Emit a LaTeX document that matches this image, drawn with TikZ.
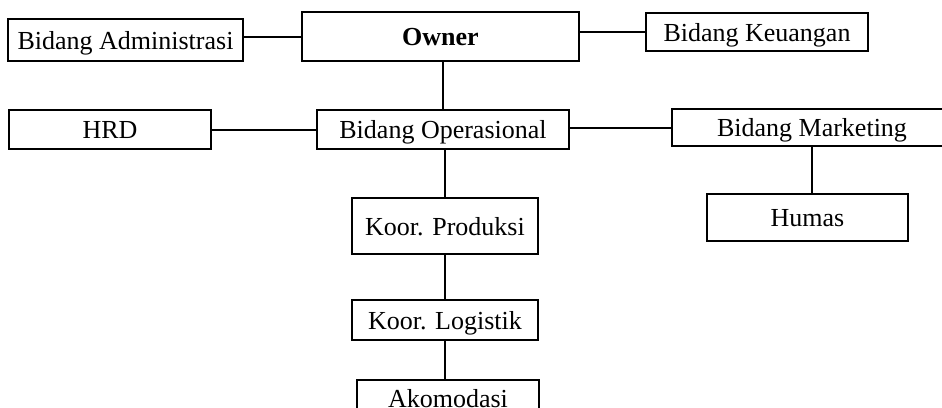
\documentclass[tikz,border=0pt]{standalone}
\usepackage{fontspec}
\setmainfont{Liberation Serif}
\usetikzlibrary{positioning}

\begin{document}
\begin{tikzpicture}[
    node distance=47pt and 60pt,
    every node/.style={font=\fontsize{26}{30}\selectfont},
    unit/.style={draw, rectangle, line width=2pt, inner sep=0pt, text depth=0pt,
                 minimum height=39pt},
    link/.style={line width=2pt},
]

%% Page frame
\useasboundingbox (0,0) rectangle (942pt,-407pt);
\clip (0,0) rectangle (942pt,-407pt);

%% Top row
\node[unit, minimum width=277pt, minimum height=49pt] (owner) at (440.5pt,-36.5pt) {\textbf{Owner}};
\node[unit, minimum width=235pt, minimum height=42pt] (admin) [left=57pt of owner, yshift=-3.5pt] {Bidang Administrasi};
\node[unit, minimum width=222pt, minimum height=38pt] (keu)   [right=65pt of owner, yshift=4.5pt] {Bidang Keuangan};

%% Second row
\node[unit, minimum width=252pt] (oper)   [below=of owner, xshift=2.5pt] {Bidang Operasional};
\node[unit, minimum width=202pt] (hrd)    [left=104pt of oper]            {HRD};
\node[unit, minimum width=280pt, minimum height=37pt] (market) [right=101pt of oper, yshift=2pt] {Bidang Marketing};
\node[unit, minimum width=201pt, minimum height=47pt] (humas)  [below=46pt of market, xshift=-4.5pt] {Humas};

%% Operational chain
\node[unit, minimum width=186pt, minimum height=56pt] (prod) [below=of oper, xshift=2pt] {Koor. Produksi};
\node[unit, minimum width=186pt, minimum height=40pt] (log)  [below=44pt of prod]          {Koor. Logistik};
\node[unit, minimum width=182pt, minimum height=36pt] (akom) [below=38pt of log, xshift=3pt] {Akomodasi};

%% Links from Owner
\draw[link] (owner.west) -- (owner.west -| admin.east);
\draw[link] (keu.west) -- (keu.west -| owner.east);
\draw[link] (oper.north |- owner.south) -- (oper.north);

%% Links from Bidang Operasional
\draw[link] (hrd) -- (oper);
\draw[link] (market.west) -- (market.west -| oper.east);
\draw[link] (market.south) -- (market.south |- humas.north);
\draw[link] (prod.north |- oper.south) -- (prod.north);
\draw[link] (prod) -- (log);
\draw[link] (log.south) -- (log.south |- akom.north);

\end{tikzpicture}
\end{document}
